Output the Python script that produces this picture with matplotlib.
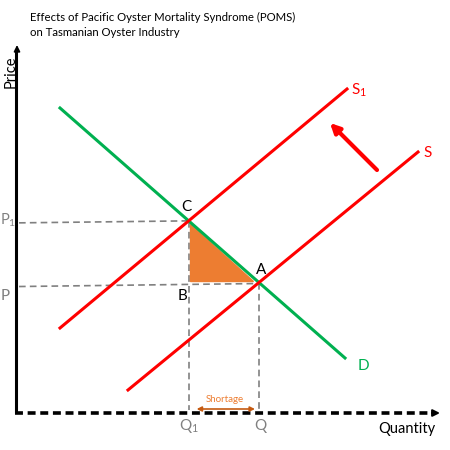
import matplotlib.pyplot as plt
import numpy as np

# ---------------------------------------------------------------------------
# Data (quantity / price in arbitrary diagram units)
# ---------------------------------------------------------------------------
title_lines = ["Effects of Pacific Oyster Mortality Syndrome (POMS)",
               "on Tasmanian Oyster Industry"]

demand_q = [44, 329]
demand_p = [305, 55]

supply_q = [112, 402]
supply_p = [23, 261]

supply1_q = [44, 331]
supply1_p = [85, 324]

shift_from = (361, 243)
shift_to = (314, 290)

y_axis_top = 368
x_axis_end = 424

RED = "#FF0000"
GREEN = "#00B050"
GRAY = "#808080"
ORANGE = "#ED7D31"
DARK_ORANGE = "#C55A11"

plt.rcParams["font.family"] = ["Lato", "DejaVu Sans"]
plt.rcParams["mathtext.fontset"] = "custom"
plt.rcParams["mathtext.rm"] = "Lato"
plt.rcParams["mathtext.it"] = "Lato:italic"
plt.rcParams["mathtext.default"] = "regular"


def intersect(q1, p1, q2, p2):
    """Intersection of two straight lines given by endpoints."""
    m1 = (p1[1] - p1[0]) / (q1[1] - q1[0])
    m2 = (p2[1] - p2[0]) / (q2[1] - q2[0])
    b1 = p1[0] - m1 * q1[0]
    b2 = p2[0] - m2 * q2[0]
    q = (b2 - b1) / (m1 - m2)
    return q, m1 * q + b1


c_q, c_p = intersect(demand_q, demand_p, supply1_q, supply1_p)
a_q, a_p = intersect(demand_q, demand_p, supply_q, supply_p)
b_q, b_p = c_q, a_p

fig = plt.figure(figsize=(4.5, 4.5), dpi=100)
ax = fig.add_axes([0, 0, 1, 1])
ax.set_xlim(-16, 434)
ax.set_ylim(-37, 413)
ax.axis("off")

# Title
ax.text(14, 396, title_lines[0], fontsize=8.2, va="center", ha="left")
ax.text(14, 380, title_lines[1], fontsize=8.2, va="center", ha="left")

# Axes
ax.plot([0, 0], [0, y_axis_top - 6], color="black", lw=2.2, solid_capstyle="butt")
ax.annotate("", xy=(1, y_axis_top), xytext=(1, y_axis_top - 10),
            arrowprops=dict(arrowstyle="-|>", color="black", lw=1.2,
                            mutation_scale=9, shrinkA=0, shrinkB=0))
ax.plot([-1, x_axis_end - 6], [0, 0], color="black", lw=2.6,
        dashes=(2.2, 1.3), dash_capstyle="butt")
ax.annotate("", xy=(x_axis_end, 0), xytext=(x_axis_end - 8, 0),
            arrowprops=dict(arrowstyle="-|>", color="black", lw=1.5,
                            mutation_scale=10, shrinkA=0, shrinkB=0))

# Shortage triangle
ax.fill([c_q + 1, b_q + 1, a_q - 6], [c_p - 3, b_p + 2, b_p + 2],
        color=ORANGE, zorder=2)

# Guide lines
dash = dict(color=GRAY, lw=1.2, dashes=(4, 2.5), zorder=1)
ax.plot([3, c_q], [c_p - 2, c_p], **dash)
ax.plot([3, a_q], [a_p - 4, a_p - 1], **dash)
ax.plot([c_q, c_q], [c_p, 3], **dash)
ax.plot([a_q, a_q], [a_p, 3], **dash)

# Curves
ax.plot(demand_q, demand_p, color=GREEN, lw=2.2, zorder=3)
ax.plot(supply_q, supply_p, color=RED, lw=2.2, zorder=4)
ax.plot(supply1_q, supply1_p, color=RED, lw=2.2, zorder=4)

# Shift arrow
ax.annotate("", xy=shift_to, xytext=shift_from,
            arrowprops=dict(arrowstyle="-|>", color=RED, lw=3,
                            mutation_scale=14, shrinkA=0, shrinkB=0))

# Shortage arrow
ax.annotate("", xy=(c_q + 8, 4), xytext=(a_q - 4, 4),
            arrowprops=dict(arrowstyle="<|-|>", color=DARK_ORANGE, lw=1.2,
                            mutation_scale=7, shrinkA=0, shrinkB=0))
ax.text((c_q + a_q) / 2 + 1, 13, "Shortage", color=ORANGE, fontsize=7,
        ha="center", va="center")

# Labels
ax.text(-5, 341, "Price", rotation=90, fontsize=10.5, ha="center", va="center")
ax.text(419, -16, "Quantity", fontsize=10.5, ha="right", va="center")
ax.text(c_q, -13, "Q$_1$", color=GRAY, fontsize=11, ha="center", va="center")
ax.text(a_q + 1, -13, "Q", color=GRAY, fontsize=11, ha="center", va="center")
ax.text(-16.5, c_p + 1, "P$_1$", color=GRAY, fontsize=10.5, ha="left", va="center")
ax.text(-15, a_p - 13, "P", color=GRAY, fontsize=11, ha="left", va="center")

ax.text(c_q - 2, c_p + 14, "C", fontsize=11, ha="center", va="center")
ax.text(a_q + 2, a_p + 13, "A", fontsize=11, ha="center", va="center")
ax.text(b_q - 6, b_p - 13, "B", fontsize=11, ha="center", va="center")
ax.text(demand_q[1] + 18, demand_p[1] - 8, "D", color=GREEN, fontsize=11,
        ha="center", va="center")
ax.text(supply_q[1] + 5, supply_p[1] - 1, "S", color=RED, fontsize=11,
        ha="left", va="center")
ax.text(supply1_q[1] + 4, supply1_p[1] - 1, "S$_1$", color=RED, fontsize=11,
        ha="left", va="center")

fig.savefig("out.png", dpi=100, facecolor="white")
